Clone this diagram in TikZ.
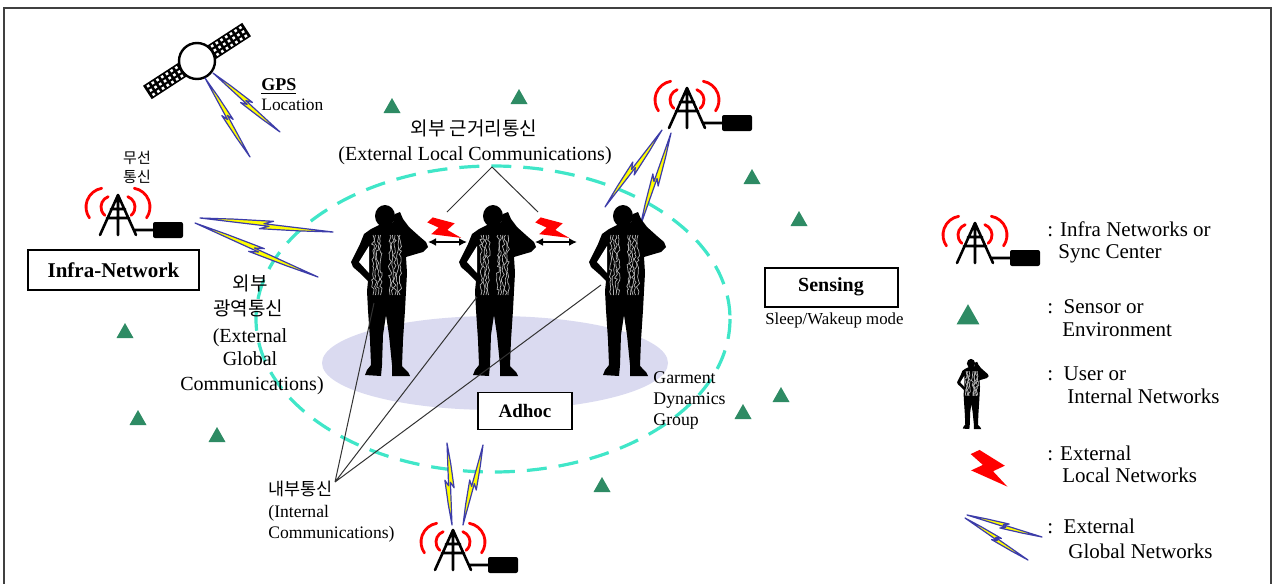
\documentclass[tikz,border=0pt]{standalone}
\usepackage{fontspec}
\setmainfont{Liberation Serif}
\newfontfamily\krfont{Noto Sans CJK KR}
\usetikzlibrary{calc,arrows.meta,decorations.pathmorphing}

\newcommand\fsz[1]{\fontsize{#1}{#1}\selectfont}
% yellow/blue zig-zag link from #1 to #2, half width #3, kink offset #4
\newcommand\glbolt[4]{%
  \filldraw[globalbolt] (#1)
    -- ($(#1)!0.25!(#2)!0.55*#3!90:(#2)$)
    -- ($(#1)!0.55!(#2)!#3!90:(#2)$)
    -- ($(#1)!0.48!(#2)!#4!90:(#2)$)
    -- (#2)
    -- ($(#1)!0.75!(#2)!0.55*#3!270:(#2)$)
    -- ($(#1)!0.45!(#2)!#3!270:(#2)$)
    -- ($(#1)!0.52!(#2)!#4!270:(#2)$)
    -- cycle;}

\definecolor{sensorgreen}{RGB}{46,139,100}
\definecolor{ringcyan}{RGB}{64,230,200}
\definecolor{padlavender}{RGB}{218,218,240}
\definecolor{boltblue}{RGB}{60,60,170}
\definecolor{boltyellow}{RGB}{255,255,0}

\tikzset{
  txt/.style={inner sep=0pt, text height=1.5ex, text depth=.25ex},
  boxlabel/.style={draw, line width=0.8pt, inner sep=0pt, fill=white},
  globalbolt/.style={fill=boltyellow, draw=boltblue, line width=0.6pt, line join=round},
  wave/.style={draw=red, line width=1.4pt, line cap=round},
  mast/.style={line width=1.3pt, line cap=round, line join=round},
  thinline/.style={line width=0.5pt, black!80},
  dblarrow/.style={{Latex[length=4pt,width=4pt]}-{Latex[length=4pt,width=4pt]}, line width=1pt},
  vest/.style={gray!60, line width=0.35pt, decorate,
    decoration={random steps, segment length=1.4pt, amplitude=0.8pt}},
  sensor/.pic={\fill[sensorgreen] (-8.5,7) -- (8.5,7) -- (0,-8) -- cycle;},
  panel/.pic={
    \fill (-21,-8) rectangle (21,8);
    \foreach \i in {-3,...,3}
      \foreach \j in {-1,0,1}
        \fill[white] ({\i*5.6-1.3},{\j*5-1.3}) rectangle ++(2.6,2.6);
  },
  tower/.pic={
    \draw[wave] (-6,12) ++(110:5.5pt) arc[start angle=110, end angle=230, radius=5.5pt];
    \draw[wave] (-13,12) ++(100:9.5pt) arc[start angle=100, end angle=215, radius=9.5pt];
    \draw[wave] (6,12) ++(70:5.5pt) arc[start angle=70, end angle=-50, radius=5.5pt];
    \draw[wave] (13,12) ++(80:9.5pt) arc[start angle=80, end angle=-35, radius=9.5pt];
    \draw[mast] (-18,40) -- (0,0) -- (18,40) (0,0) -- (0,40)
      (-7,14) -- (7,14) (-11,23) -- (11,23) (16,35) -- (35,35);
    \fill[rounded corners=1pt] (35,27) rectangle (65,43);
  },
  lbolt/.pic={\fill[red] (6.5,0) -- (13,10) -- (7.8,10) -- (10.4,18) -- (0,6) -- (5.2,6) -- (2.6,0) -- cycle;},
  soldier/.pic={
    \fill (-4,9) -- (-14,14) -- (-21,19) -- (-25,29) -- (-30,39) -- (-34,47) -- (-32,52)
      -- (-24,59) -- (-17,66) -- (-18,76) -- (-17,95) -- (-15,125) -- (-14,150) -- (-18,155)
      -- (-20,160) -- (-4,161) -- (-3,150) -- (-2,120) -- (1,100) -- (4,120) -- (7,150)
      -- (7,161) -- (25,161) -- (23,157) -- (17,151) -- (18,125) -- (20,95) -- (21,76)
      -- (22,58) -- (21,42) -- (31,39) -- (38,37) -- (43,32) -- (41,27) -- (34,21)
      -- (24,12) -- (18,4) -- (15,-3) -- (10,-1) -- (8,8) -- cycle;
    \fill (0,1) ellipse [x radius=10, y radius=11];
    \fill[white] (-16,31) -- (-26,47) -- (-16,58) -- cycle;
    \foreach \vx in {-12,-9.5,-7,-4.5,5,7.5,10,12.5,15}
      \draw[vest] (\vx,20) -- (\vx,80);
  }
}

\begin{document}
\begin{tikzpicture}[x=0.5pt, y=-0.5pt]
\useasboundingbox (0,0) rectangle (1276,584);

% outer frame
\draw[line width=0.9pt, black!75] (4,600) -- (4,8) -- (1271,8) -- (1271,600);

% ground pad and ad-hoc ring
\fill[padlavender] (495,363) ellipse [x radius=173, y radius=47];
\draw[ringcyan, line width=1.6pt, dash pattern=on 10pt off 6pt] (493,319) ellipse [x radius=237, y radius=153];

% satellite
\pic[rotate=33] at (165,81) {panel};
\pic[rotate=33] at (229,41) {panel};
\filldraw[fill=white, line width=1.2pt] (197,61) circle [radius=18];

% base stations
\pic at (118,195) {tower};
\pic at (687,88) {tower};
\pic at (453,530) {tower};
\pic at (975,223) {tower};

% wide-area links
\glbolt{205,78}{250,157}{2pt}{0.5pt}
\glbolt{213,73}{280,132}{2pt}{0.5pt}
\glbolt{200,218}{333,232}{2.2pt}{0.5pt}
\glbolt{195,223}{318,277}{2.2pt}{0.5pt}
\glbolt{662,130}{605,207}{2.2pt}{0.5pt}
\glbolt{671,133}{640,227}{2.2pt}{0.5pt}
\glbolt{447,443}{452,525}{2.2pt}{0.5pt}
\glbolt{483,445}{463,525}{2.2pt}{0.5pt}
\glbolt{967,515}{1042,537}{1.6pt}{0.4pt}
\glbolt{965,518}{1028,560}{1.6pt}{0.4pt}

% sensors
\foreach \sx/\sy in {392/106, 519/97, 752/177, 799/219, 125/331, 138/418, 217/435, 781/395, 743/412, 602/485}
  \pic at (\sx,\sy) {sensor};
\pic[scale=1.35] at (968,315) {sensor};

% users
\pic at (385,215) {soldier};
\pic at (493,215) {soldier};
\pic at (623,215) {soldier};
\pic[scale=0.41] at (971,363) {soldier};

% local links between users
\coordinate (a1l) at (428,242);
\coordinate (a1r) at (467,242);
\coordinate (a2l) at (535,242);
\coordinate (a2r) at (577,242);
\draw[dblarrow] (a1l) -- (a1r);
\draw[dblarrow] (a2l) -- (a2r);
\pic[rotate=42, scale=1.9] at (423.6,225.7) {lbolt};
\pic[rotate=42, scale=1.9] at (531.6,225.7) {lbolt};
\pic[rotate=25, scale=2.5] at (964.8,456.8) {lbolt};

% pointer lines
\coordinate (elc) at (492,167);
\coordinate (elA) at (447,212);
\coordinate (elB) at (538,212);
\draw[thinline] (elA) -- (elc) -- (elB);
\coordinate (ic) at (335,482);
\coordinate (s1p) at (374,303);
\coordinate (s2p) at (477,297);
\coordinate (s3p) at (601,285);
\draw[thinline] (ic) -- (s1p) (ic) -- (s2p) (ic) -- (s3p);

% labels
\node[txt, anchor=west, font=\bfseries\fsz{9}] (gps) at (261,85) {\underline{GPS}};
\node[txt, anchor=west, font=\fsz{8.7}] (gpsloc) at (261,105) {Location};
\node[txt, font=\krfont\fsz{7.5}] (wl1) at (137,158) {무선};
\node[txt, font=\krfont\fsz{7.5}] (wl2) at (137,177) {통신};
\node[boxlabel, minimum width=85.5pt, minimum height=20pt, font=\bfseries\fsz{10.5}] (infra) at (113.5,270) {Infra-Network};

\node[txt, font=\krfont\fsz{9.5}] (eg1) at (250,285) {외부};
\node[txt, font=\krfont\fsz{9.5}] (eg2) at (248,310) {광역통신};
\node[txt, font=\fsz{10}] (eg3) at (250,337) {(External};
\node[txt, font=\fsz{10}] (eg4) at (250,360) {Global};
\node[txt, font=\fsz{10}] (eg5) at (252,385) {Communications)};

\node[txt, font=\krfont\fsz{9.5}] (el1) at (474,130) {외부 근거리통신};
\node[txt, font=\fsz{10}] (el2) at (475,155) {(External Local Communications)};

\node[boxlabel, line width=1pt, minimum width=66.5pt, minimum height=19.5pt, font=\bfseries\fsz{10}] (sensing) at (831,287) {Sensing};
\node[txt, anchor=west, font=\fsz{8.4}] (sleep) at (765,319) {Sleep/Wakeup mode};
\node[boxlabel, minimum width=47pt, minimum height=18.5pt, font=\bfseries\fsz{9.5}] (adhoc) at (525,411) {Adhoc};

\node[txt, anchor=west, font=\fsz{8.9}] (gd1) at (653,378) {Garment};
\node[txt, anchor=west, font=\fsz{8.9}] (gd2) at (653,399) {Dynamics};
\node[txt, anchor=west, font=\fsz{8.9}] (gd3) at (653,420) {Group};

\node[txt, anchor=west, font=\krfont\fsz{8.75}] (ic1) at (268,490) {내부통신};
\node[txt, anchor=west, font=\fsz{8.8}] (ic2) at (268,512) {(Internal};
\node[txt, anchor=west, font=\fsz{8.8}] (ic3) at (268,533) {Communications)};

% legend
\node[txt, anchor=west, font=\fsz{10.5}] (lg1a) at (1047,231) {: Infra Networks or};
\node[txt, anchor=west, font=\fsz{10.5}] (lg1b) at (1058,253) {Sync Center};
\node[txt, anchor=west, font=\fsz{10.5}] (lg2a) at (1047,308) {:\ \ Sensor or};
\node[txt, anchor=west, font=\fsz{10.5}] (lg2b) at (1062,331) {Environment};
\node[txt, anchor=west, font=\fsz{10.5}] (lg3a) at (1047,375) {:\ \ User or};
\node[txt, anchor=west, font=\fsz{10.5}] (lg3b) at (1067,398) {Internal Networks};
\node[txt, anchor=west, font=\fsz{10.5}] (lg4a) at (1047,455) {: External};
\node[txt, anchor=west, font=\fsz{10.5}] (lg4b) at (1062,477) {Local Networks};
\node[txt, anchor=west, font=\fsz{10.5}] (lg5a) at (1047,528) {:\ \ External};
\node[txt, anchor=west, font=\fsz{10.5}] (lg5b) at (1068,553) {Global Networks};
\end{tikzpicture}
\end{document}
